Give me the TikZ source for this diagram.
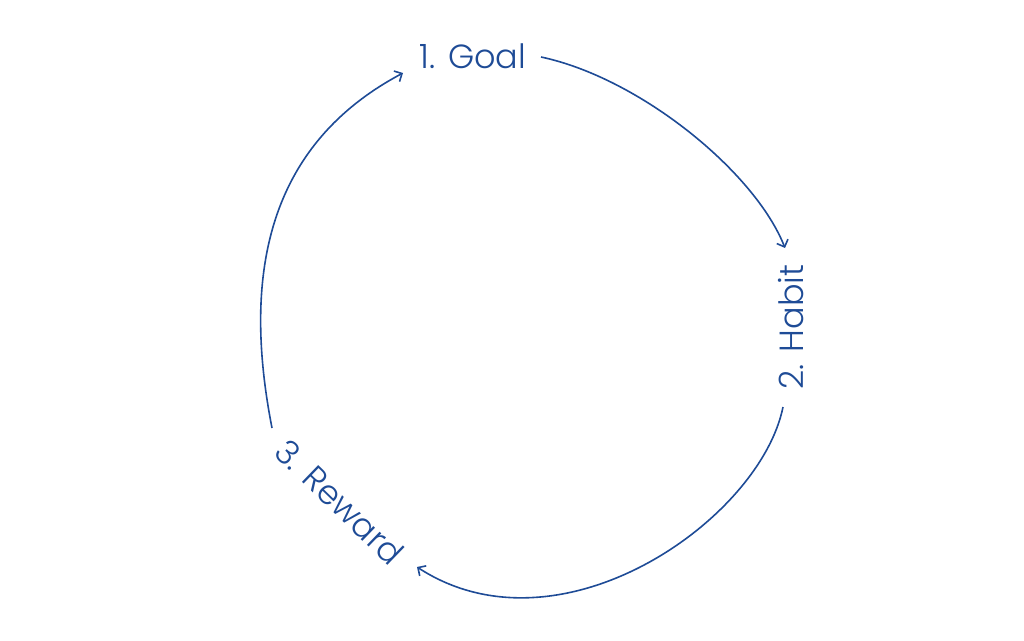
\documentclass[tikz,border=0pt]{standalone}
\usepackage{fontspec}
\setmainfont{Poppins Light}
\usetikzlibrary{arrows.meta}
\definecolor{loopblue}{RGB}{30,75,150}

\begin{document}
\begin{tikzpicture}[x=1pt, y=-1pt, thick, loopblue,
    step label/.style = {text=loopblue, font=\fontsize{33.5}{40}\selectfont, inner sep=0pt},
    loop arrow/.style = {line width=1.6pt, -{Straight Barb[length=6pt, width=12pt]}}]
    \useasboundingbox (0,0) rectangle (1024,640);

    \node[step label] (goal) at (473,56) {1. Goal};
    \node[step label, rotate=90] (habit) at (791,327) {2. Habit};
    \node[step label, rotate=-44] (reward) at (340,502) {3. Reward};

    % ends of the loop arrows
    \coordinate (goal-out) at (541,57);
    \coordinate (habit-in) at (785,248);
    \coordinate (habit-out) at (783,407);
    \coordinate (reward-in) at (417,567);
    \coordinate (reward-out) at (272,428);
    \coordinate (goal-in) at (403,73);

    \draw[loop arrow] (goal-out) .. controls (640,78) and (755,172) .. (habit-in);
    \draw[loop arrow] (habit-out) .. controls (760,520) and (560,660) .. (reward-in);
    \draw[loop arrow] (reward-out) .. controls (245,290) and (258,150) .. (goal-in);
\end{tikzpicture}
\end{document}
